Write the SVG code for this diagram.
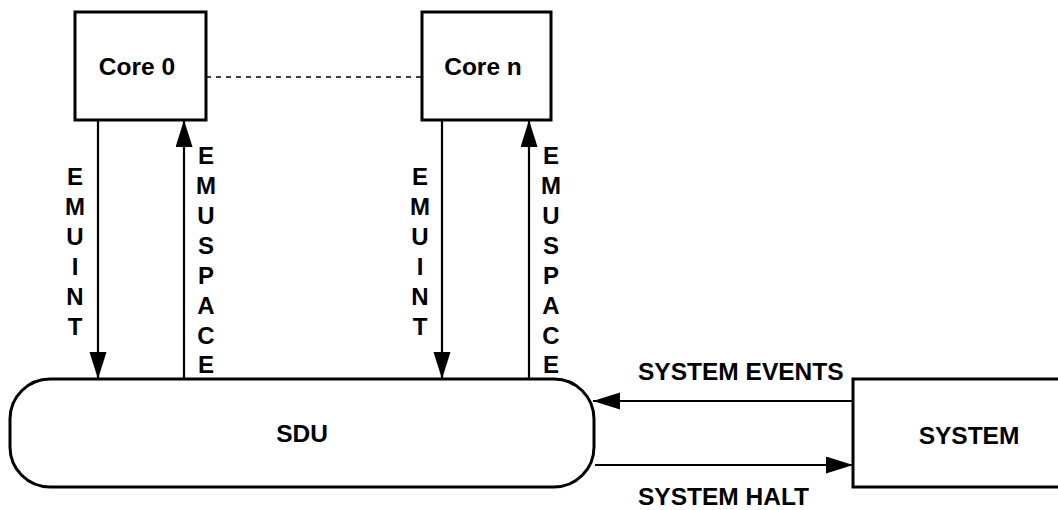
<svg xmlns="http://www.w3.org/2000/svg" width="1058" height="510" viewBox="0 0 1058 510">
<style>
.box{fill:#fff;stroke:#000;stroke-width:3}
.line{fill:none;stroke:#000;stroke-width:2.2}
.dash{fill:none;stroke:#000;stroke-width:1.5;stroke-dasharray:5,5}
text{font-family:"Liberation Sans",Arial,sans-serif;font-weight:bold;font-size:24.5px;fill:#000}
.c{text-anchor:middle}
.v{text-anchor:middle;font-size:24px}
</style>
<defs>
<marker id="ah" markerWidth="28" markerHeight="18" refX="27" refY="8.5" orient="auto" markerUnits="userSpaceOnUse">
<path d="M0,0 L27,8.5 L0,17 Z" fill="#000"/>
</marker>
</defs>
<rect width="1058" height="510" fill="#fff"/>
<g id="connectors">
<line class="dash" x1="206" y1="77" x2="422" y2="77"/>
<line class="line" x1="98" y1="121" x2="98" y2="379" marker-end="url(#ah)"/>
<line class="line" x1="184" y1="379" x2="184" y2="120" marker-end="url(#ah)"/>
<line class="line" x1="442" y1="121" x2="442" y2="379" marker-end="url(#ah)"/>
<line class="line" x1="529" y1="379" x2="529" y2="120" marker-end="url(#ah)"/>
<line class="line" x1="853" y1="401" x2="593" y2="401" marker-end="url(#ah)"/>
<line class="line" x1="595" y1="465" x2="853" y2="465" marker-end="url(#ah)"/>
<g id="labels">
<text class="v" x="75"><tspan x="75" y="185">E</tspan><tspan x="75" y="215">M</tspan><tspan x="75" y="245">U</tspan><tspan x="75" y="275">I</tspan><tspan x="75" y="305">N</tspan><tspan x="75" y="335">T</tspan></text>
<text class="v" x="206"><tspan x="206" y="164">E</tspan><tspan x="206" y="194">M</tspan><tspan x="206" y="224">U</tspan><tspan x="206" y="254">S</tspan><tspan x="206" y="284">P</tspan><tspan x="206" y="314">A</tspan><tspan x="206" y="344">C</tspan><tspan x="206" y="373">E</tspan></text>
<text class="v" x="420"><tspan x="420" y="185">E</tspan><tspan x="420" y="215">M</tspan><tspan x="420" y="245">U</tspan><tspan x="420" y="275">I</tspan><tspan x="420" y="305">N</tspan><tspan x="420" y="335">T</tspan></text>
<text class="v" x="551"><tspan x="551" y="164">E</tspan><tspan x="551" y="194">M</tspan><tspan x="551" y="224">U</tspan><tspan x="551" y="254">S</tspan><tspan x="551" y="284">P</tspan><tspan x="551" y="314">A</tspan><tspan x="551" y="344">C</tspan><tspan x="551" y="373">E</tspan></text>
<text x="638" y="380">SYSTEM EVENTS</text>
<text x="638" y="505">SYSTEM HALT</text>
</g>
</g>
<g id="core0">
<rect class="box" x="75" y="12" width="131" height="108"/>
<text class="c" x="137" y="75">Core 0</text>
</g>
<g id="coren">
<rect class="box" x="422" y="12" width="129" height="108"/>
<text class="c" x="483" y="75">Core n</text>
</g>
<g id="sdu">
<rect class="box" x="10" y="379" width="584" height="108" rx="40" ry="40"/>
<text class="c" x="302" y="442">SDU</text>
</g>
<g id="system">
<rect class="box" x="853" y="379" width="210" height="108"/>
<text class="c" x="969" y="444">SYSTEM</text>
</g>
</svg>
